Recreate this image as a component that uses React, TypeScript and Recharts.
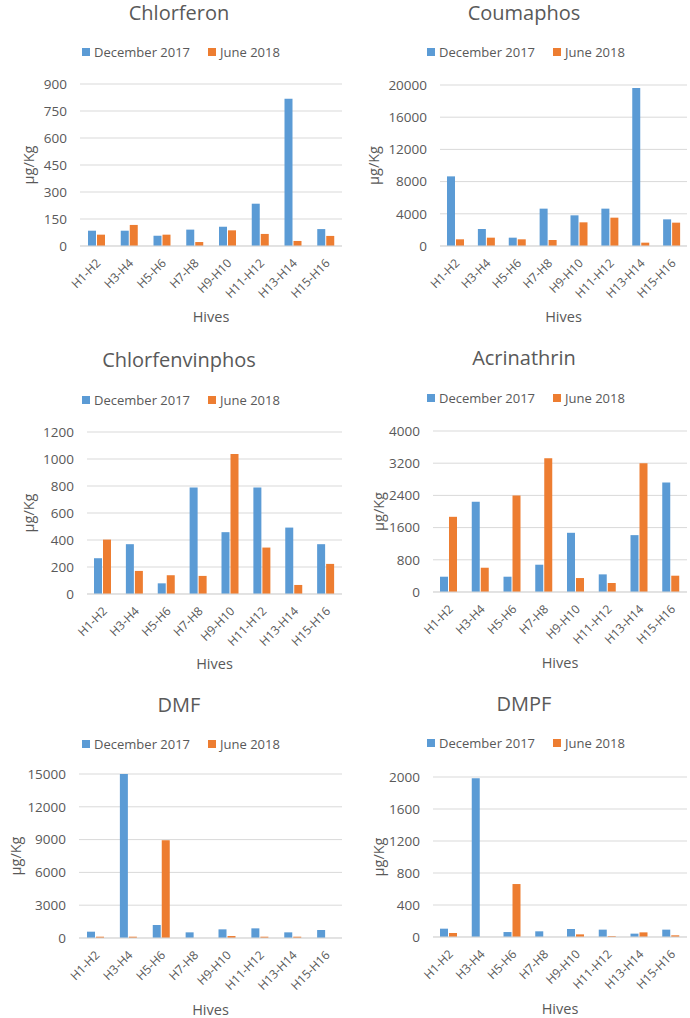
import { BarChart, Bar, XAxis, YAxis, CartesianGrid, Legend, Label } from 'recharts';

const hives = ['H1-H2', 'H3-H4', 'H5-H6', 'H7-H8', 'H9-H10', 'H11-H12', 'H13-H14', 'H15-H16'];

const chlorferonDec = [85, 85, 57, 91, 107, 235, 818, 94];
const chlorferonJun = [63, 117, 63, 22, 87, 67, 28, 56];
const chlorferonTicks = [0, 150, 300, 450, 600, 750, 900];

const coumaphosDec = [8650, 2110, 1035, 4640, 3810, 4640, 19630, 3310];
const coumaphosJun = [830, 1035, 830, 745, 2940, 3520, 415, 2900];
const coumaphosTicks = [0, 4000, 8000, 12000, 16000, 20000];

const chlorfenvinphosDec = [265, 369, 79, 789, 458, 789, 492, 369];
const chlorfenvinphosJun = [403, 171, 139, 134, 1037, 344, 67, 223];
const chlorfenvinphosTicks = [0, 200, 400, 600, 800, 1000, 1200];

const acrinathrinDec = [380, 2240, 380, 678, 1471, 438, 1413, 2719];
const acrinathrinJun = [1868, 603, 2397, 3322, 347, 223, 3198, 405];
const acrinathrinTicks = [0, 800, 1600, 2400, 3200, 4000];

const dmfDec = [578, 15000, 1187, 517, 791, 882, 517, 730];
const dmfJun = [120, 120, 8945, 0, 180, 120, 120, 0];
const dmfTicks = [0, 3000, 6000, 9000, 12000, 15000];

const dmpfDec = [104, 1983, 62, 71, 100, 92, 42, 92];
const dmpfJun = [50, 0, 662, 0, 33, 12, 58, 21];
const dmpfTicks = [0, 400, 800, 1200, 1600, 2000];

const BLUE = '#5B9BD5';
const ORANGE = '#ED7D31';
const TEXT = '#595959';
const GRID = '#D9D9D9';
const FONT = '"Open Sans", sans-serif';

type PanelProps = {
  title: string;
  dec: number[];
  jun: number[];
  ticks: number[];
  left: number;
  top: number;
  height: number;
  titleY: number;
  legendY: number;
  plotTop: number;
  plotBottom: number;
  plotLeft: number;
  yLabelX: number;
  hivesY: number;
};

const XTick = (props: any) => {
  const { x, y, payload } = props;
  const ax = x + 5;
  const ay = y + 18;
  return (
    <text
      x={ax}
      y={ay}
      transform={`rotate(-45 ${ax} ${ay})`}
      textAnchor="end"
      fontSize={12}
      fill={TEXT}
      fontFamily={FONT}
    >
      {payload.value}
    </text>
  );
};

function Panel(p: PanelProps) {
  const width = 345;
  const chartHeight = p.height + 12;
  const data = hives.map((h, i) => ({ hive: h, dec: p.dec[i], jun: p.jun[i] }));
  return (
    <div style={{ position: 'absolute', left: p.left, top: p.top, width, height: chartHeight }}>
      <div
        style={{
          position: 'absolute',
          left: 0,
          width: 358,
          top: p.titleY - 14,
          height: 28,
          lineHeight: '28px',
          textAlign: 'center',
          fontSize: 20,
          color: TEXT,
          fontFamily: FONT,
        }}
      >
        {p.title}
      </div>
      <BarChart
        width={width}
        height={chartHeight}
        data={data}
        margin={{ top: p.plotTop, right: 3, left: 0, bottom: 0 }}
        barSize={8}
        barGap={1}
      >
        <CartesianGrid vertical={false} stroke={GRID} />
        <XAxis
          dataKey="hive"
          height={chartHeight - p.plotBottom}
          tickLine={false}
          tickSize={0}
          tickMargin={0}
          axisLine={{ stroke: GRID }}
          interval={0}
          tick={<XTick />}
        >
          <Label
            content={(lp: any) => {
              const vb = lp.viewBox;
              return (
                <text
                  x={vb.x + vb.width / 2}
                  y={p.hivesY}
                  textAnchor="middle"
                  dominantBaseline="central"
                  fontSize={14.5}
                  fill={TEXT}
                  fontFamily={FONT}
                >
                  Hives
                </text>
              );
            }}
          />
        </XAxis>
        <YAxis
          width={p.plotLeft}
          domain={[0, p.ticks[p.ticks.length - 1]]}
          ticks={p.ticks}
          interval={0}
          axisLine={false}
          tickLine={false}
          tickSize={0}
          tickMargin={13}
          tick={{ fill: TEXT, fontSize: 13.5, fontFamily: FONT }}
        >
          <Label
            content={(lp: any) => {
              const vb = lp.viewBox;
              const cy = vb.y + vb.height / 2;
              return (
                <text
                  x={p.yLabelX}
                  y={cy}
                  transform={`rotate(-90 ${p.yLabelX} ${cy})`}
                  textAnchor="middle"
                  dominantBaseline="central"
                  fontSize={14.5}
                  fill={TEXT}
                  fontFamily={FONT}
                >
                  μg/Kg
                </text>
              );
            }}
          />
        </YAxis>
        <Legend
          verticalAlign="middle"
          align="center"
          wrapperStyle={{ top: p.legendY - 10, left: 0, width: 362, height: 20 }}
          content={(lp: any) => (
            <div
              style={{
                display: 'flex',
                justifyContent: 'center',
                gap: 18,
                fontSize: 13,
                lineHeight: '20px',
                color: TEXT,
                fontFamily: FONT,
              }}
            >
              {(lp.payload || []).map((e: any) => (
                <span key={e.value} style={{ display: 'flex', alignItems: 'center' }}>
                  <span style={{ width: 8, height: 8, background: e.color, marginRight: 4 }} />
                  {e.value}
                </span>
              ))}
            </div>
          )}
        />
        <Bar dataKey="dec" name="December 2017" fill={BLUE} isAnimationActive={false} />
        <Bar dataKey="jun" name="June 2018" fill={ORANGE} isAnimationActive={false} />
      </BarChart>
    </div>
  );
}

export default function App() {
  return (
    <div style={{ position: 'absolute', left: 0, top: 0, width: 690, height: 1018, background: '#fff', overflow: 'hidden' }}>
      <Panel title="Chlorferon" dec={chlorferonDec} jun={chlorferonJun} ticks={chlorferonTicks}
        left={0} top={0} height={330} titleY={13} legendY={52} plotTop={84} plotBottom={246} plotLeft={80} yLabelX={28} hivesY={316} />
      <Panel title="Coumaphos" dec={coumaphosDec} jun={coumaphosJun} ticks={coumaphosTicks}
        left={345} top={0} height={330} titleY={13} legendY={52} plotTop={85} plotBottom={246} plotLeft={95} yLabelX={28} hivesY={316} />
      <Panel title="Chlorfenvinphos" dec={chlorfenvinphosDec} jun={chlorfenvinphosJun} ticks={chlorfenvinphosTicks}
        left={0} top={330} height={340} titleY={30} legendY={70} plotTop={102} plotBottom={264} plotLeft={87} yLabelX={28} hivesY={333} />
      <Panel title="Acrinathrin" dec={acrinathrinDec} jun={acrinathrinJun} ticks={acrinathrinTicks}
        left={345} top={330} height={340} titleY={28} legendY={68} plotTop={101} plotBottom={262} plotLeft={88} yLabelX={33} hivesY={332} />
      <Panel title="DMF" dec={dmfDec} jun={dmfJun} ticks={dmfTicks}
        left={0} top={670} height={348} titleY={35} legendY={74} plotTop={104} plotBottom={268} plotLeft={79} yLabelX={15} hivesY={339} />
      <Panel title="DMPF" dec={dmpfDec} jun={dmpfJun} ticks={dmpfTicks}
        left={345} top={670} height={348} titleY={34} legendY={73} plotTop={107} plotBottom={267} plotLeft={88} yLabelX={33} hivesY={338} />
    </div>
  );
}
